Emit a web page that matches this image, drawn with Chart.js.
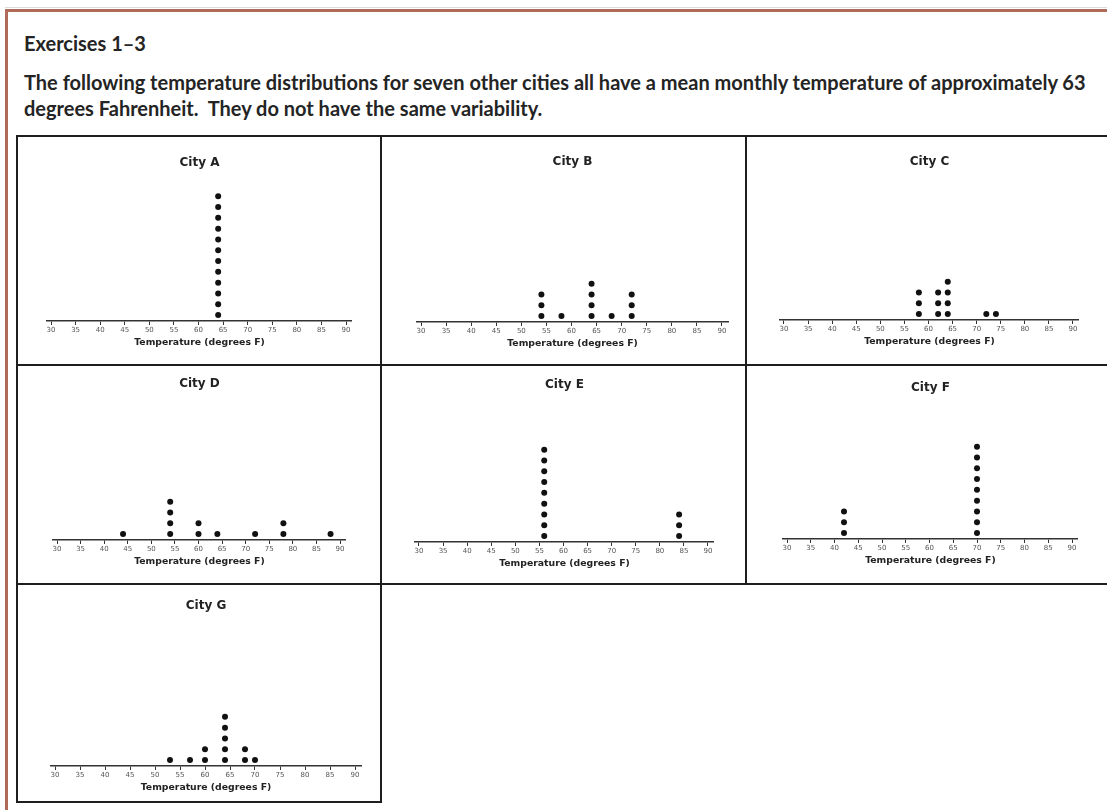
<!DOCTYPE html>
<html>
<head>
<meta charset="utf-8">
<script src="https://cdn.jsdelivr.net/npm/chart.js@4.4.0/dist/chart.umd.min.js"></script>
<style>
  body { margin: 0; background: #fff; }
  #page { position: relative; width: 1107px; height: 810px; overflow: hidden; font-family: Lato, sans-serif; color: #242424; }
  .frame { position: absolute; left: 5px; top: 9px; width: 1200px; height: 900px; border-left: 3px solid #b06a5a; border-top: 3px solid #b06a5a; }
  .shade { position: absolute; left: 5px; top: 7px; width: 1200px; height: 1px; background: #dcdcdc; }
  .txt { position: absolute; left: 24px; font-weight: bold; font-size: 20px; white-space: pre; line-height: 24px; }
  .ln { position: absolute; background: #1e1e1e; }
  canvas { position: absolute; }
</style>
</head>
<body>
<div id="page">
  <div class="shade"></div>
  <div class="frame"></div>
  <div class="txt" style="top:31px">Exercises 1–3</div>
  <div class="txt" style="top:70px">The following temperature distributions for seven other cities all have a mean monthly temperature of approximately 63</div>
  <div class="txt" style="top:96px">degrees Fahrenheit.  They do not have the same variability.</div>

  <!-- table rules -->
  <div class="ln" style="left:16px;top:135px;width:1091px;height:2px"></div>
  <div class="ln" style="left:16px;top:364px;width:1091px;height:2px"></div>
  <div class="ln" style="left:16px;top:583px;width:1091px;height:2px"></div>
  <div class="ln" style="left:16px;top:801px;width:366px;height:2px"></div>
  <div class="ln" style="left:16px;top:135px;width:2px;height:668px"></div>
  <div class="ln" style="left:380px;top:135px;width:2px;height:668px"></div>
  <div class="ln" style="left:745px;top:135px;width:2px;height:450px"></div>
</div>

<script>
// temperatures, one entry per month
const cityA = [64, 64, 64, 64, 64, 64, 64, 64, 64, 64, 64, 64];
const cityB = [54, 54, 54, 58, 64, 64, 64, 64, 68, 72, 72, 72];
const cityC = [58, 58, 58, 62, 62, 62, 64, 64, 64, 64, 72, 74];
const cityD = [44, 54, 54, 54, 54, 60, 60, 64, 72, 78, 78, 88];
const cityE = [56, 56, 56, 56, 56, 56, 56, 56, 56, 84, 84, 84];
const cityF = [42, 42, 42, 70, 70, 70, 70, 70, 70, 70, 70, 70];
const cityG = [53, 57, 60, 60, 64, 64, 64, 64, 64, 68, 68, 70];

const cityNames = ['City A', 'City B', 'City C', 'City D', 'City E', 'City F', 'City G'];
const tickValues = [30, 35, 40, 45, 50, 55, 60, 65, 70, 75, 80, 85, 90];
const axisTitle = 'Temperature (degrees F)';

const xMin = 29.2, xMax = 91.2;
const dotStep = 10.8;   // px between stacked dots
const yMin = 0.45;

// where each little plot sits on the page
const panels = [
  { data: cityA, left: 18,  top: 137, w: 362, h: 227, titleY: 163, axisY: 322, px30: 51,  px90: 346 },
  { data: cityB, left: 382, top: 137, w: 363, h: 227, titleY: 162, axisY: 323, px30: 421, px90: 722 },
  { data: cityC, left: 747, top: 137, w: 360, h: 227, titleY: 162, axisY: 321, px30: 784, px90: 1073 },
  { data: cityD, left: 18,  top: 366, w: 362, h: 217, titleY: 384, axisY: 541, px30: 57,  px90: 340 },
  { data: cityE, left: 382, top: 366, w: 363, h: 217, titleY: 385, axisY: 543, px30: 419, px90: 708 },
  { data: cityF, left: 747, top: 366, w: 360, h: 217, titleY: 388, axisY: 540, px30: 787, px90: 1072 },
  { data: cityG, left: 18,  top: 585, w: 362, h: 216, titleY: 606, axisY: 767, px30: 55,  px90: 355 }
];

// dot plot: repeated values stack upward
function stack(values) {
  const seen = {};
  return values.map(function (v) {
    seen[v] = (seen[v] || 0) + 1;
    return { x: v, y: seen[v] };
  });
}

const page = document.getElementById('page');

panels.forEach(function (p, i) {
  const canvas = document.createElement('canvas');
  canvas.width = p.w;
  canvas.height = p.h;
  canvas.style.left = p.left + 'px';
  canvas.style.top = p.top + 'px';
  page.appendChild(canvas);

  const perUnit = (p.px90 - p.px30) / 60;
  const padLeft = p.px30 - (30 - xMin) * perUnit - p.left;
  const padRight = p.left + p.w - (p.px90 + (xMax - 90) * perUnit);
  const axisBox = 4 + 1 + 7 * 1.2 + 2 + 9.3 * 1.2;
  const padBottom = p.top + p.h - p.axisY - axisBox;
  const titleTop = p.titleY - p.top - 7.2;

  const chart = new Chart(canvas.getContext('2d'), {
    type: 'scatter',
    data: {
      datasets: [{
        data: stack(p.data),
        pointRadius: 3,
        pointHoverRadius: 3,
        pointBackgroundColor: '#111',
        pointBorderWidth: 0
      }]
    },
    options: {
      responsive: false,
      animation: false,
      events: [],
      layout: { padding: { left: padLeft, right: padRight, top: 0, bottom: padBottom } },
      plugins: {
        legend: { display: false },
        tooltip: { enabled: false },
        title: {
          display: true,
          text: cityNames[i],
          color: '#222',
          font: { family: 'DejaVu Sans', size: 12, weight: 'bold', lineHeight: 1.2 },
          padding: { top: titleTop, bottom: 8 }
        }
      },
      scales: {
        x: {
          type: 'linear',
          min: xMin,
          max: xMax,
          afterBuildTicks: function (axis) {
            axis.ticks = tickValues.map(function (v) { return { value: v }; });
          },
          border: { display: true, color: '#333', width: 1.5 },
          grid: { drawOnChartArea: false, drawTicks: true, tickLength: 4, color: '#333', lineWidth: 1 },
          ticks: {
            padding: 1,
            color: '#555',
            autoSkip: false,
            maxRotation: 0,
            font: { family: 'DejaVu Sans', size: 7, lineHeight: 1.2 }
          },
          title: {
            display: true,
            text: axisTitle,
            color: '#222',
            font: { family: 'DejaVu Sans', size: 9.3, weight: 'bold', lineHeight: 1.2 },
            padding: { top: 2, bottom: 0 }
          }
        },
        y: { display: false, min: yMin, max: 14 }
      }
    }
  });

  // keep the dot spacing the same in every panel
  const area = chart.chartArea;
  chart.options.scales.y.max = yMin + (area.bottom - area.top) / dotStep;
  chart.update('none');
});
</script>
</body>
</html>
